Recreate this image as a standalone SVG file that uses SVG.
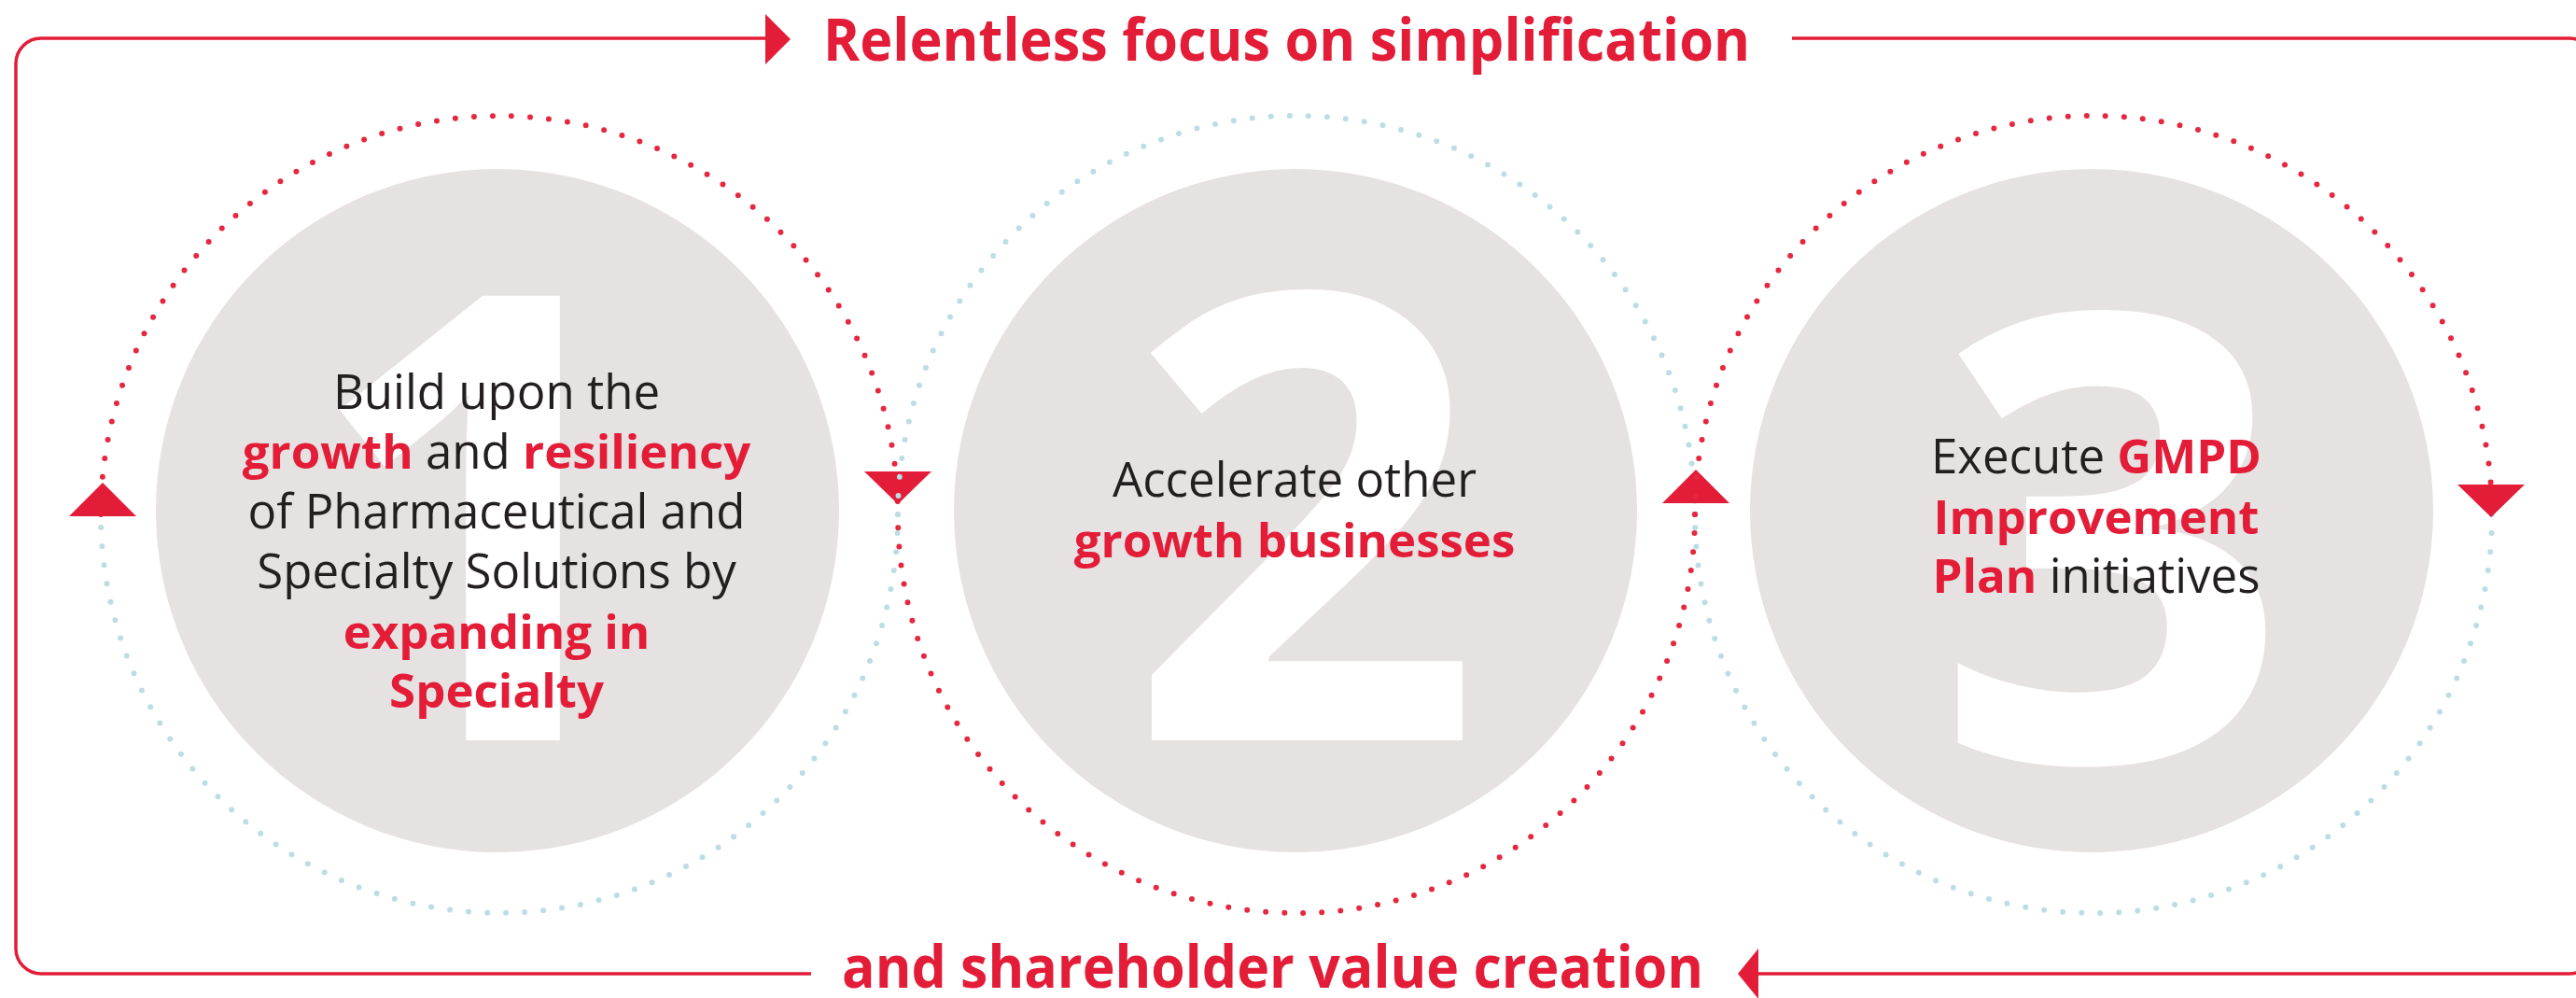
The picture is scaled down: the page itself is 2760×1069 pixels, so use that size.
<svg xmlns="http://www.w3.org/2000/svg" width="2760" height="1069" viewBox="0 0 2760 1069">
<defs>
<style>
.frame{fill:none;stroke:#e31d38;stroke-width:3.5}
.red{fill:#e31d38}
.grey{fill:#e7e2e2}
.num{font-family:"Open Sans","Noto Sans",sans-serif;font-weight:700;font-size:667px;fill:#ffffff;text-anchor:middle}
.dr{fill:none;stroke:#e5283f;stroke-width:6;stroke-linecap:round;stroke-dasharray:0 20.1}
.db{fill:none;stroke:#bcdde5;stroke-width:6;stroke-linecap:round;stroke-dasharray:0 20.1}
.body{font-family:"Open Sans","Noto Sans",sans-serif;font-size:51px;fill:#231f20;text-anchor:middle}
.b{font-weight:700;fill:#e31d38}
.head{font-family:"Open Sans","Noto Sans",sans-serif;font-size:62px;font-weight:700;fill:#e31d38}
</style>
</defs>
<rect width="2760" height="1069" fill="#ffffff"/>
<g id="connectors">
<path class="frame" d="M820 41 H44 A27 27 0 0 0 17 68 V1016 A27 27 0 0 0 44 1043 H869"/>
<path class="frame" d="M1920 41 H2753 A27 27 0 0 1 2780 68 V1016 A27 27 0 0 1 2753 1043 H1881"/>
<polygon class="red" points="820,15 847,42 820,69"/>
<polygon class="red" points="1884,1016 1862,1043 1884,1070"/>
</g>
<g id="circle1">
<circle class="grey" cx="533" cy="547" r="366"/>
<text class="num" x="515" y="793">1</text>
<path class="dr" d="M108 551 A427 427 0 0 1 962 551"/>
<path class="db" d="M962 551 A427 427 0 0 1 108 551"/>
<polygon class="red" points="110,517 146,553 74,553"/>
<polygon class="red" points="926,505 998,505 962,540"/>
<text class="body" x="532" y="438">Build upon the</text>
<text class="body" x="532" y="502"><tspan class="b">growth</tspan> and <tspan class="b">resiliency</tspan></text>
<text class="body" x="532" y="566">of Pharmaceutical and</text>
<text class="body" x="532" y="630">Specialty Solutions by</text>
<text class="body b" x="532" y="695">expanding in</text>
<text class="body b" x="532" y="758">Specialty</text>
</g>
<g id="circle2">
<circle class="grey" cx="1388" cy="547" r="366"/>
<text class="num" x="1398" y="793">2</text>
<path class="db" d="M962 551 A427 427 0 0 1 1816 551"/>
<path class="dr" d="M1816 551 A427 427 0 0 1 962 551"/>
<polygon class="red" points="1817,503 1853,539 1781,539"/>
<text class="body" x="1387" y="532">Accelerate other</text>
<text class="body b" x="1387" y="597">growth businesses</text>
</g>
<g id="circle3">
<circle class="grey" cx="2241" cy="547" r="366"/>
<text class="num" x="2263" y="815">3</text>
<path class="dr" d="M1816 551 A427 427 0 0 1 2670 551"/>
<path class="db" d="M2670 551 A427 427 0 0 1 1816 551"/>
<polygon class="red" points="2633,519 2705,519 2669,554"/>
<text class="body" x="2246" y="507">Execute <tspan class="b">GMPD</tspan></text>
<text class="body b" x="2246" y="572">Improvement</text>
<text class="body" x="2246" y="635"><tspan class="b">Plan</tspan> initiatives</text>
</g>
<g id="labels">
<text class="head" x="882" y="65" textLength="993" lengthAdjust="spacingAndGlyphs">Relentless focus on simplification</text>
<text class="head" x="902" y="1058" textLength="923" lengthAdjust="spacingAndGlyphs">and shareholder value creation</text>
</g>
</svg>
